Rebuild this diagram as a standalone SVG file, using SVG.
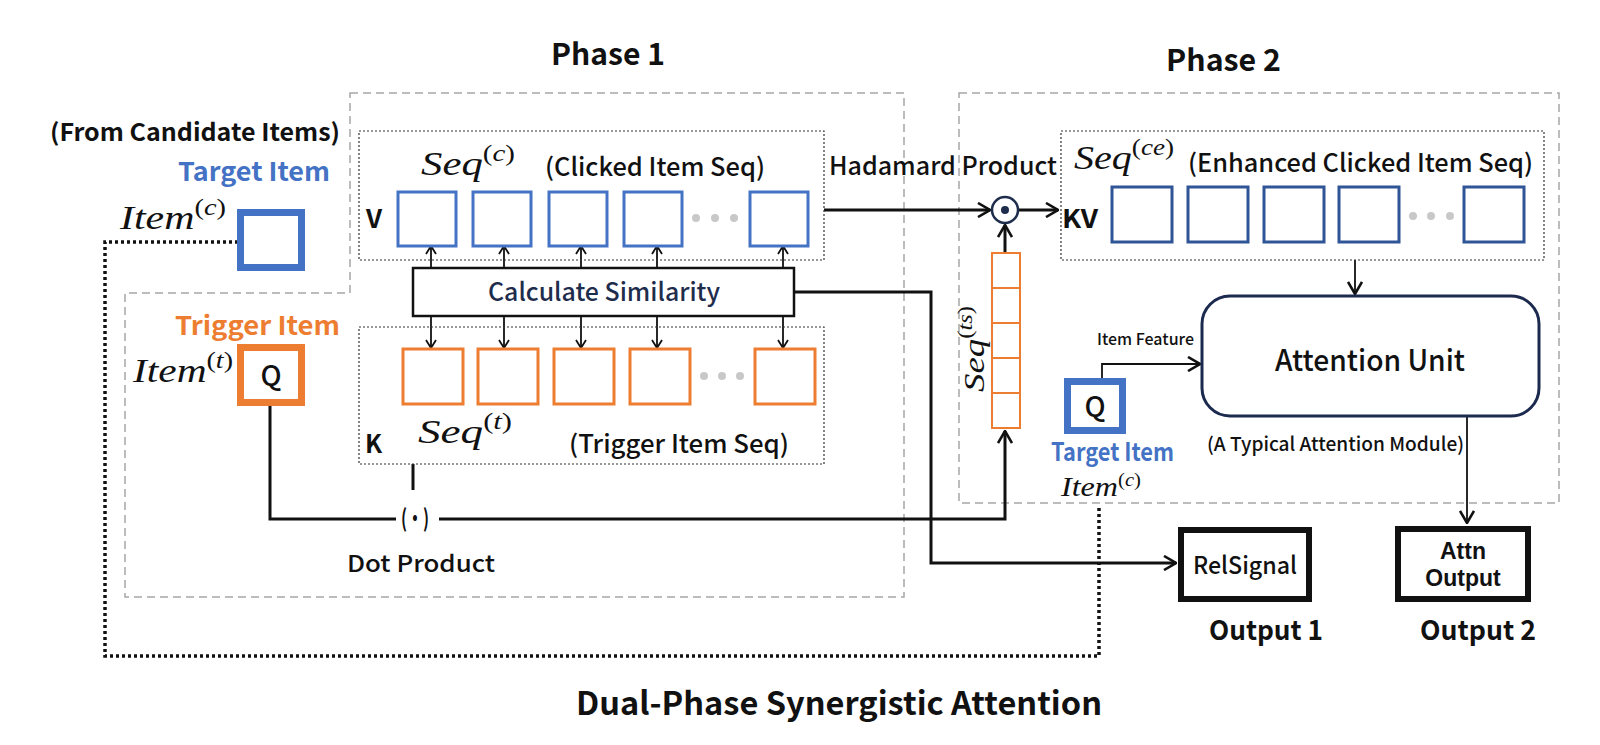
<svg xmlns="http://www.w3.org/2000/svg" width="1600" height="745" viewBox="0 0 1600 745">
<style>
.lbl{font-family:"Noto Sans CJK SC","Noto Sans","Liberation Sans",sans-serif;font-weight:bold;fill:#111}
.med{font-weight:500}
.math{font-family:"Liberation Serif","DejaVu Serif",serif;font-style:italic;fill:#111}
.phase{fill:none;stroke:#A6A6A6;stroke-width:1.5;stroke-dasharray:8 5}
.grp{fill:none;stroke:#333;stroke-width:1.2;stroke-dasharray:2 2}
.bbox{fill:#fff;stroke:#4472C4;stroke-width:3}
.obox{fill:#fff;stroke:#ED7D31;stroke-width:3}
.nbox{fill:#fff;stroke:#2F5597;stroke-width:3}
.gdot{fill:#C8C8C8}
.ln{fill:none;stroke:#111;stroke-width:3}
.lns{fill:none;stroke:#111;stroke-width:1.8}
.dotted{fill:none;stroke:#111;stroke-width:3.5;stroke-dasharray:3 3}
.cell{fill:#fff;stroke:#ED7D31;stroke-width:2}
</style>
<defs>
<marker id="aL" viewBox="0 0 14 16" refX="13" refY="8" markerWidth="14" markerHeight="16" markerUnits="userSpaceOnUse" orient="auto">
<path d="M1,1 L13,8 L1,15" fill="none" stroke="#111" stroke-width="2.6"/>
</marker>
<marker id="aS" viewBox="0 0 10 12" refX="9" refY="6" markerWidth="10" markerHeight="12" markerUnits="userSpaceOnUse" orient="auto">
<path d="M1,1 L9,6 L1,11" fill="none" stroke="#111" stroke-width="1.8"/>
</marker>
</defs>
<rect width="1600" height="745" fill="#fff"/>

<!-- phase regions -->
<g id="phase1">
<path class="phase" d="M350,93 H904 V597 H125 V293 H350 Z"/>
<text class="lbl" x="551" y="65" font-size="30" textLength="114" lengthAdjust="spacingAndGlyphs">Phase 1</text>
</g>
<g id="phase2">
<rect class="phase" x="959" y="93" width="600" height="410"/>
<text class="lbl" x="1166" y="71" font-size="30" textLength="115" lengthAdjust="spacingAndGlyphs">Phase 2</text>
</g>

<!-- connectors -->
<g id="connectors">
<path class="dotted" d="M238,242 H105 V656 H1099 V505"/>
<g class="lns">
<line x1="431" y1="268" x2="431" y2="246" marker-end="url(#aS)"/>
<line x1="504" y1="268" x2="504" y2="246" marker-end="url(#aS)"/>
<line x1="581" y1="268" x2="581" y2="246" marker-end="url(#aS)"/>
<line x1="657" y1="268" x2="657" y2="246" marker-end="url(#aS)"/>
<line x1="783" y1="268" x2="783" y2="246" marker-end="url(#aS)"/>
<line x1="431" y1="316" x2="431" y2="348" marker-end="url(#aS)"/>
<line x1="504" y1="316" x2="504" y2="348" marker-end="url(#aS)"/>
<line x1="581" y1="316" x2="581" y2="348" marker-end="url(#aS)"/>
<line x1="657" y1="316" x2="657" y2="348" marker-end="url(#aS)"/>
<line x1="783" y1="316" x2="783" y2="348" marker-end="url(#aS)"/>
</g>
<path class="ln" d="M270,405 V519 H396"/>
<line class="ln" x1="413" y1="464" x2="413" y2="490"/>
<path class="ln" d="M439,519 H1005 V431" marker-end="url(#aL)"/>
<line class="ln" x1="824" y1="210" x2="990" y2="210" marker-end="url(#aL)"/>
<line class="ln" x1="1019" y1="210" x2="1058" y2="210" marker-end="url(#aL)"/>
<line class="ln" x1="1005" y1="253" x2="1005" y2="225" marker-end="url(#aL)"/>
<path class="ln" d="M794,292 H931 V563 H1176" marker-end="url(#aL)"/>
<line class="lns" x1="1355" y1="260" x2="1355" y2="294" marker-end="url(#aL)"/>
<path class="lns" d="M1102,378 V364 H1200" marker-end="url(#aL)"/>
<line class="lns" x1="1467" y1="416" x2="1467" y2="523" marker-end="url(#aL)"/>
</g>

<g id="candidate-label">
<text class="lbl" x="50" y="141" font-size="24" textLength="290" lengthAdjust="spacingAndGlyphs">(From Candidate Items)</text>
</g>

<g id="target-item-1">
<text class="lbl" x="178" y="181" font-size="26" style="fill:#4472C4" textLength="152" lengthAdjust="spacingAndGlyphs">Target Item</text>
<text class="math" x="120" y="229" font-size="34" textLength="106" lengthAdjust="spacingAndGlyphs">Item<tspan font-size="23" dy="-14" font-style="normal">(</tspan><tspan font-size="23">c</tspan><tspan font-size="23" font-style="normal">)</tspan></text>
<rect x="240.5" y="212.5" width="61" height="55" fill="#fff" stroke="#4472C4" stroke-width="7"/>
</g>

<g id="trigger-item">
<text class="lbl" x="175" y="335" font-size="26" style="fill:#ED7D31" textLength="165" lengthAdjust="spacingAndGlyphs">Trigger Item</text>
<text class="math" x="133" y="382" font-size="34" textLength="100" lengthAdjust="spacingAndGlyphs">Item<tspan font-size="23" dy="-14" font-style="normal">(</tspan><tspan font-size="23">t</tspan><tspan font-size="23" font-style="normal">)</tspan></text>
<rect x="240.5" y="347.5" width="61" height="55" fill="#fff" stroke="#ED7D31" stroke-width="7"/>
<text class="lbl med" x="271" y="386" font-size="28" text-anchor="middle">Q</text>
</g>

<g id="clicked-seq">
<rect class="grp" x="359" y="131" width="465" height="129"/>
<text class="lbl" x="366" y="228" font-size="26">V</text>
<text class="math" x="421" y="175" font-size="34" textLength="94" lengthAdjust="spacingAndGlyphs">Seq<tspan font-size="23" dy="-14" font-style="normal">(</tspan><tspan font-size="23">c</tspan><tspan font-size="23" font-style="normal">)</tspan></text>
<text class="lbl med" x="545" y="176" font-size="25" textLength="220" lengthAdjust="spacingAndGlyphs">(Clicked Item Seq)</text>
<rect class="bbox" x="398" y="192" width="58" height="54"/>
<rect class="bbox" x="473" y="192" width="58" height="54"/>
<rect class="bbox" x="549" y="192" width="58" height="54"/>
<rect class="bbox" x="624" y="192" width="58" height="54"/>
<rect class="bbox" x="750" y="192" width="58" height="54"/>
<circle class="gdot" cx="696" cy="218" r="4"/>
<circle class="gdot" cx="715" cy="218" r="4"/>
<circle class="gdot" cx="734" cy="218" r="4"/>
</g>

<g id="calc-similarity">
<rect x="413" y="268" width="381" height="48" fill="#fff" stroke="#111" stroke-width="2.5"/>
<text x="604" y="301" font-size="25" text-anchor="middle" textLength="232" lengthAdjust="spacingAndGlyphs" style="font-family:'Noto Sans CJK SC','Noto Sans',sans-serif;font-weight:500;fill:#1F2D4D">Calculate Similarity</text>
</g>

<g id="trigger-seq">
<rect class="grp" x="359" y="327" width="465" height="137"/>
<rect class="obox" x="403" y="349" width="60" height="55"/>
<rect class="obox" x="478" y="349" width="60" height="55"/>
<rect class="obox" x="554" y="349" width="60" height="55"/>
<rect class="obox" x="630" y="349" width="60" height="55"/>
<rect class="obox" x="755" y="349" width="60" height="55"/>
<circle class="gdot" cx="704" cy="376" r="4"/>
<circle class="gdot" cx="722" cy="376" r="4"/>
<circle class="gdot" cx="740" cy="376" r="4"/>
<text class="lbl" x="365" y="453" font-size="25">K</text>
<text class="math" x="418" y="443" font-size="34" textLength="94" lengthAdjust="spacingAndGlyphs">Seq<tspan font-size="23" dy="-14" font-style="normal">(</tspan><tspan font-size="23">t</tspan><tspan font-size="23" font-style="normal">)</tspan></text>
<text class="lbl med" x="569" y="453" font-size="25" textLength="220" lengthAdjust="spacingAndGlyphs">(Trigger Item Seq)</text>
</g>

<g id="dot-product">
<text class="lbl" x="415" y="527" font-size="24" text-anchor="middle" textLength="28" lengthAdjust="spacingAndGlyphs">(·)</text>
<text class="lbl med" x="347" y="572" font-size="23" textLength="148" lengthAdjust="spacingAndGlyphs">Dot Product</text>
</g>

<g id="hadamard">
<text class="lbl med" x="829" y="175" font-size="25" textLength="228" lengthAdjust="spacingAndGlyphs">Hadamard Product</text>
<circle cx="1005" cy="210" r="13" fill="#fff" stroke="#1F2D4D" stroke-width="2.5"/>
<circle cx="1005" cy="210" r="4" fill="#1F2D4D"/>
</g>

<g id="seq-ts">
<rect class="cell" x="992" y="253" width="28" height="35"/>
<rect class="cell" x="992" y="288" width="28" height="35"/>
<rect class="cell" x="992" y="323" width="28" height="35"/>
<rect class="cell" x="992" y="358" width="28" height="35"/>
<rect class="cell" x="992" y="393" width="28" height="35"/>
<text class="math" transform="rotate(-90 984 392)" x="984" y="392" font-size="30" textLength="86" lengthAdjust="spacingAndGlyphs">Seq<tspan font-size="20" dy="-12" font-style="normal">(</tspan><tspan font-size="20">ts</tspan><tspan font-size="20" font-style="normal">)</tspan></text>
</g>

<g id="enhanced-seq">
<rect class="grp" x="1061" y="131" width="483" height="129"/>
<text class="lbl" x="1062" y="228" font-size="26" textLength="36" lengthAdjust="spacingAndGlyphs">KV</text>
<text class="math" x="1074" y="169" font-size="34" textLength="100" lengthAdjust="spacingAndGlyphs">Seq<tspan font-size="23" dy="-14" font-style="normal">(</tspan><tspan font-size="23">ce</tspan><tspan font-size="23" font-style="normal">)</tspan></text>
<text class="lbl med" x="1188" y="172" font-size="25" textLength="345" lengthAdjust="spacingAndGlyphs">(Enhanced Clicked Item Seq)</text>
<rect class="nbox" x="1112" y="187" width="60" height="55"/>
<rect class="nbox" x="1188" y="187" width="60" height="55"/>
<rect class="nbox" x="1264" y="187" width="60" height="55"/>
<rect class="nbox" x="1339" y="187" width="60" height="55"/>
<rect class="nbox" x="1464" y="187" width="60" height="55"/>
<circle class="gdot" cx="1413" cy="216" r="4"/>
<circle class="gdot" cx="1431" cy="216" r="4"/>
<circle class="gdot" cx="1450" cy="216" r="4"/>
</g>

<g id="attention-unit">
<rect x="1202" y="296" width="337" height="120" rx="28" fill="#fff" stroke="#1B2A4E" stroke-width="3"/>
<text class="lbl med" x="1370" y="371" font-size="29" text-anchor="middle" textLength="190" lengthAdjust="spacingAndGlyphs">Attention Unit</text>
<text class="lbl med" x="1207" y="451" font-size="19" textLength="257" lengthAdjust="spacingAndGlyphs">(A Typical Attention Module)</text>
<text class="lbl med" x="1097" y="345" font-size="16" textLength="97" lengthAdjust="spacingAndGlyphs">Item Feature</text>
</g>

<g id="target-item-2">
<rect x="1067.5" y="381.5" width="55" height="49" fill="#fff" stroke="#4472C4" stroke-width="7"/>
<text class="lbl med" x="1095" y="417" font-size="28" text-anchor="middle">Q</text>
<text class="lbl" x="1051" y="461" font-size="25" style="fill:#4472C4" textLength="123" lengthAdjust="spacingAndGlyphs">Target Item</text>
<text class="math" x="1061" y="496" font-size="28" textLength="80" lengthAdjust="spacingAndGlyphs">Item<tspan font-size="18" dy="-10" font-style="normal">(</tspan><tspan font-size="18">c</tspan><tspan font-size="18" font-style="normal">)</tspan></text>
</g>

<g id="output-1">
<rect x="1181" y="530" width="128" height="69" fill="#fff" stroke="#111" stroke-width="6"/>
<text class="lbl med" x="1245" y="574" font-size="24" text-anchor="middle" textLength="104" lengthAdjust="spacingAndGlyphs">RelSignal</text>
<text class="lbl" x="1266" y="640" font-size="27" text-anchor="middle" textLength="114" lengthAdjust="spacingAndGlyphs">Output 1</text>
</g>

<g id="output-2">
<rect x="1398" y="529" width="130" height="70" fill="#fff" stroke="#111" stroke-width="6"/>
<text font-size="23" text-anchor="middle" style="font-family:'Liberation Sans',Arial,sans-serif;font-weight:bold;fill:#111"><tspan x="1463" y="559">Attn</tspan><tspan x="1463" y="586">Output</tspan></text>
<text class="lbl" x="1478" y="640" font-size="27" text-anchor="middle" textLength="116" lengthAdjust="spacingAndGlyphs">Output 2</text>
</g>

<g id="title">
<text class="lbl" x="839" y="715" font-size="32" text-anchor="middle" textLength="526" lengthAdjust="spacingAndGlyphs">Dual-Phase Synergistic Attention</text>
</g>
</svg>
